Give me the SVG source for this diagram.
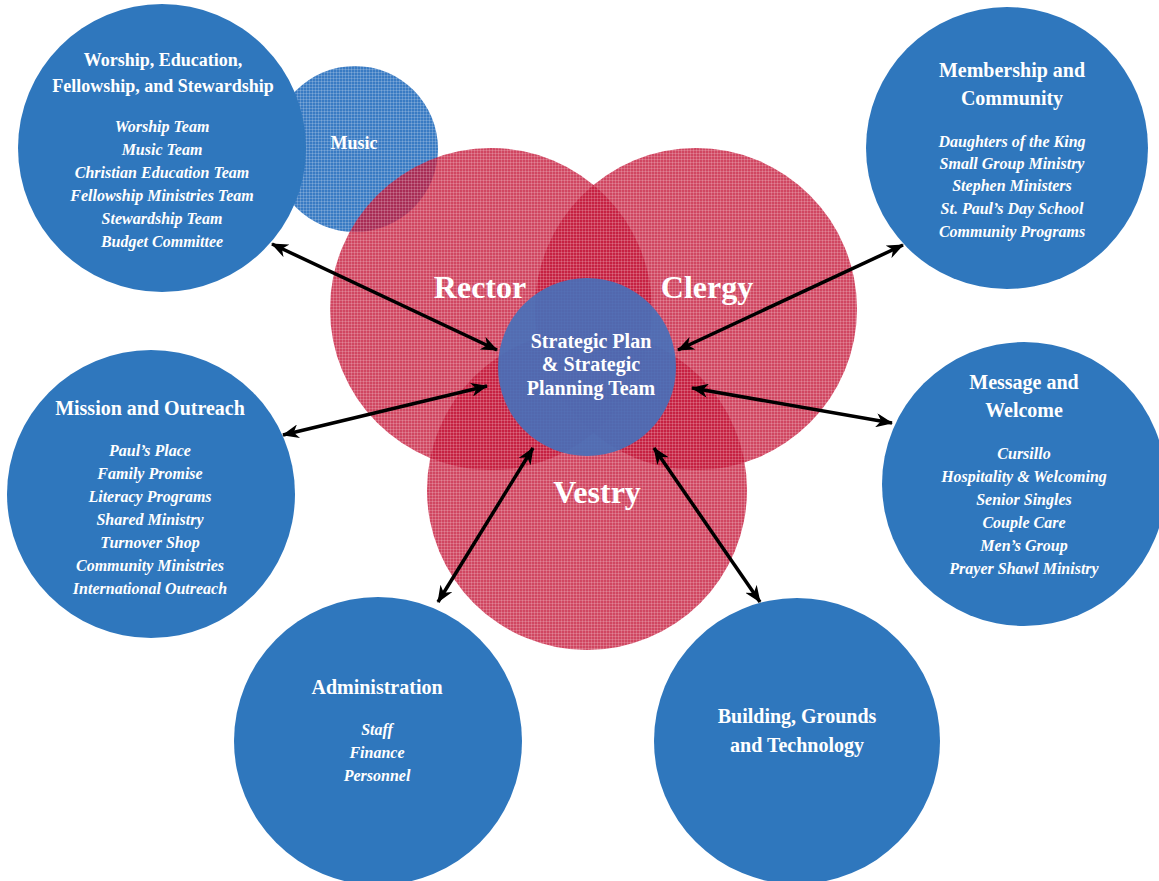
<svg xmlns="http://www.w3.org/2000/svg" width="1159" height="881" viewBox="0 0 1159 881">
<defs>
<pattern id="redHatch" width="3" height="3" patternUnits="userSpaceOnUse">
<rect width="3" height="3" fill="#C4183A"/>
<path d="M0,0.5H3M0.5,0V3" stroke="#ffffff" stroke-width="0.6" stroke-opacity="0.3"/>
</pattern>
<pattern id="blueHatch" width="3" height="3" patternUnits="userSpaceOnUse">
<rect width="3" height="3" fill="#2F74C0"/>
<path d="M0,0.5H3M0.5,0V3" stroke="#ffffff" stroke-width="0.6" stroke-opacity="0.3"/>
</pattern>
<marker id="ah" viewBox="0 0 17 14" refX="16" refY="7" markerWidth="17" markerHeight="14" orient="auto-start-reverse" markerUnits="userSpaceOnUse">
<path d="M0,0 L17,7 L0,14 L5,7 Z" fill="#000"/>
</marker>
</defs>
<style>
.node{fill:#2F77BD}
.red{fill:url(#redHatch);opacity:0.8}
.t{font-family:"Liberation Serif","Times New Roman",serif;font-weight:bold;fill:#fff;text-anchor:middle}
.h{font-size:20px}
.h18{font-size:18px}
.i{font-size:16px;font-style:italic}
.big{font-size:32px}
.conn line{stroke:#000;stroke-width:3.5;marker-start:url(#ah);marker-end:url(#ah)}
</style>
<rect width="1159" height="881" fill="#fff"/>

<g id="music">
<circle cx="355" cy="149" r="83" fill="url(#blueHatch)" opacity="0.95"/>
<text class="t h18" x="354" y="149">Music</text>
</g>

<g id="rector">
<circle class="red" cx="491" cy="309" r="161"/>
</g>
<g id="clergy">
<circle class="red" cx="696" cy="309" r="161"/>
</g>
<g id="vestry">
<circle class="red" cx="587" cy="490" r="160"/>
</g>
<g id="red-labels">
<text class="t big" x="480" y="298">Rector</text>
<text class="t big" x="707" y="298">Clergy</text>
<text class="t big" x="597" y="503">Vestry</text>
</g>

<g id="strategic">
<circle cx="587" cy="367" r="89" fill="#4570BA" opacity="0.9"/>
<text class="t h" x="591" y="348">Strategic Plan</text>
<text class="t h" x="591" y="371">&amp; Strategic</text>
<text class="t h" x="591" y="395">Planning Team</text>
</g>

<g id="worship">
<circle class="node" cx="162" cy="148" r="144"/>
<text class="t h18" x="163" y="66">Worship, Education,</text>
<text class="t h18" x="163" y="92">Fellowship, and Stewardship</text>
<text class="t i" x="162" y="132">Worship Team</text>
<text class="t i" x="162" y="155">Music Team</text>
<text class="t i" x="162" y="178">Christian Education Team</text>
<text class="t i" x="162" y="201">Fellowship Ministries Team</text>
<text class="t i" x="162" y="224">Stewardship Team</text>
<text class="t i" x="162" y="247">Budget Committee</text>
</g>

<g id="membership">
<circle class="node" cx="1007" cy="148" r="141"/>
<text class="t h" x="1012" y="77">Membership and</text>
<text class="t h" x="1012" y="105">Community</text>
<text class="t i" x="1012" y="147">Daughters of the King</text>
<text class="t i" x="1012" y="169">Small Group Ministry</text>
<text class="t i" x="1012" y="191">Stephen Ministers</text>
<text class="t i" x="1012" y="214">St. Paul’s Day School</text>
<text class="t i" x="1012" y="237">Community Programs</text>
</g>

<g id="mission">
<circle class="node" cx="151" cy="494" r="144"/>
<text class="t h" x="150" y="415">Mission and Outreach</text>
<text class="t i" x="150" y="456">Paul’s Place</text>
<text class="t i" x="150" y="479">Family Promise</text>
<text class="t i" x="150" y="502">Literacy Programs</text>
<text class="t i" x="150" y="525">Shared Ministry</text>
<text class="t i" x="150" y="548">Turnover Shop</text>
<text class="t i" x="150" y="571">Community Ministries</text>
<text class="t i" x="150" y="594">International Outreach</text>
</g>

<g id="message">
<circle class="node" cx="1024" cy="484" r="142"/>
<text class="t h" x="1024" y="389">Message and</text>
<text class="t h" x="1024" y="417">Welcome</text>
<text class="t i" x="1024" y="459">Cursillo</text>
<text class="t i" x="1024" y="482">Hospitality &amp; Welcoming</text>
<text class="t i" x="1024" y="505">Senior Singles</text>
<text class="t i" x="1024" y="528">Couple Care</text>
<text class="t i" x="1024" y="551">Men’s Group</text>
<text class="t i" x="1024" y="574">Prayer Shawl Ministry</text>
</g>

<g id="administration">
<circle class="node" cx="378" cy="741" r="144"/>
<text class="t h" x="377" y="694">Administration</text>
<text class="t i" x="377" y="735">Staff</text>
<text class="t i" x="377" y="758">Finance</text>
<text class="t i" x="377" y="781">Personnel</text>
</g>

<g id="building">
<circle class="node" cx="797" cy="741" r="143"/>
<text class="t h" x="797" y="723">Building, Grounds</text>
<text class="t h" x="797" y="752">and Technology</text>
</g>

<g id="connectors" class="conn">
<line x1="272" y1="244" x2="497" y2="350"/>
<line x1="283" y1="435" x2="487" y2="386"/>
<line x1="903" y1="245" x2="678" y2="350"/>
<line x1="692" y1="388" x2="892" y2="423"/>
<line x1="533" y1="448" x2="438" y2="602"/>
<line x1="654" y1="448" x2="760" y2="602"/>
</g>
</svg>
